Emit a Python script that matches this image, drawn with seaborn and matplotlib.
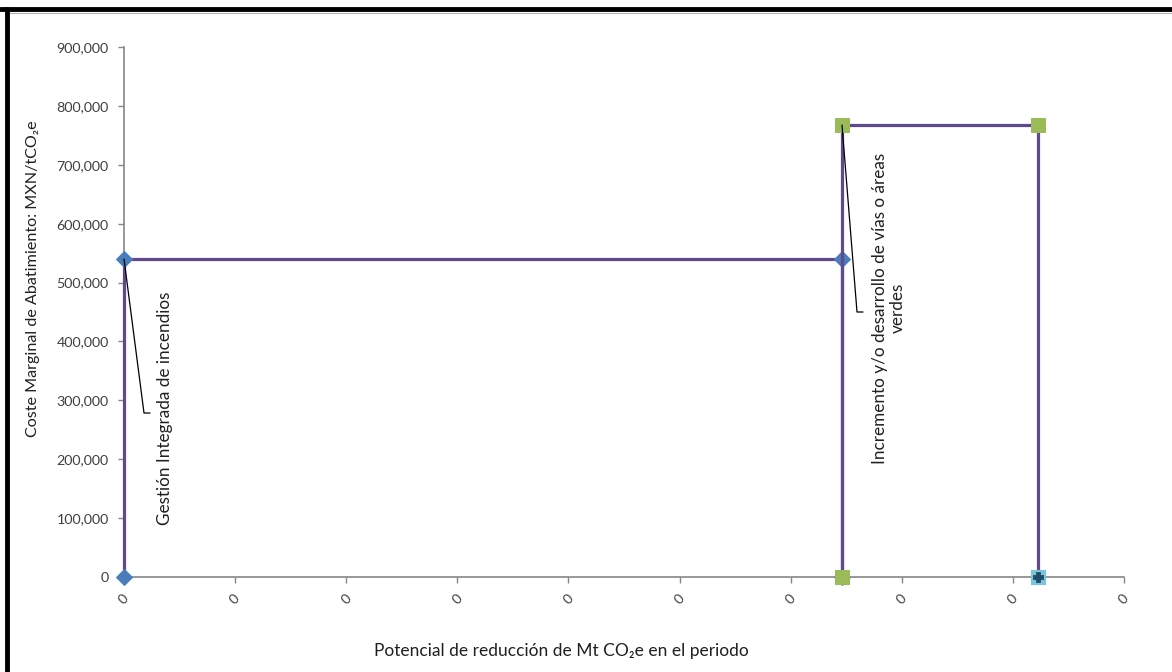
import matplotlib
matplotlib.use("Agg")
import matplotlib.pyplot as plt
from matplotlib.lines import Line2D
from matplotlib.ticker import FuncFormatter, MultipleLocator
import seaborn as sns

# Datos (curva de costes marginales de abatimiento)
x_gestion = [0, 0, 0.006462, 0.006462]
y_gestion = [0, 540000, 540000, 0]
x_incremento = [0.006462, 0.006462, 0.008226, 0.008226]
y_incremento = [0, 767500, 767500, 0]
x_final = [0.008226]
y_final = [0]

etiqueta_gestion = "Gestión Integrada de incendios"
etiqueta_incremento = "Incremento y/o desarrollo de vías o áreas\nverdes"
x_ticks = [i * 0.001 for i in range(10)]

# Estilo
sns.set_style("white")
plt.rcParams['font.family'] = ['Lato', 'DejaVu Sans']

MORADO = '#5f4a8b'
AZUL = '#4a7ebb'
VERDE = '#9bbb59'
GRIS = '#868686'
TEXTO = '#202020'
TAM = 12.3

fig = plt.figure(figsize=(11.72, 6.72), dpi=100)
ax = fig.add_axes([124 / 1172, 1 - 577 / 672, 1000 / 1172, 530 / 672])

sns.lineplot(x=x_gestion, y=y_gestion, sort=False, estimator=None, ax=ax,
             color=MORADO, lw=2.3, marker='D', markersize=8,
             markerfacecolor=AZUL, markeredgecolor=AZUL, clip_on=False, zorder=3)
sns.lineplot(x=x_incremento, y=y_incremento, sort=False, estimator=None, ax=ax,
             color=MORADO, lw=2.3, marker='s', markersize=10,
             markerfacecolor=VERDE, markeredgecolor=VERDE, clip_on=False, zorder=4)
sns.scatterplot(x=x_final, y=y_final, ax=ax, marker='s', s=110, color='#7cc4d8',
                edgecolor='#7cc4d8', clip_on=False, zorder=5)
sns.scatterplot(x=x_final, y=y_final, ax=ax, marker='P', s=60, color='#1f4e6b',
                edgecolor='#1f4e6b', clip_on=False, zorder=6)

# Ejes
ax.set_xlim(0, 0.009)
ax.set_ylim(0, 900000)
ax.set_xticks(x_ticks)
ax.xaxis.set_major_formatter(FuncFormatter(lambda v, p: f"{v:.0f}"))
ax.yaxis.set_major_locator(MultipleLocator(100000))
ax.yaxis.set_major_formatter(FuncFormatter(lambda v, p: f"{v:,.0f}"))
for lab in ax.get_xticklabels():
    lab.set_rotation(45)
ax.tick_params(axis='both', labelsize=10.3, colors='#404040', length=4,
               width=1, direction='out', left=True, bottom=True)
ax.tick_params(axis='both', color=GRIS)
ax.tick_params(axis='x', pad=7)
ax.tick_params(axis='y', pad=7)
for lado in ['top', 'right']:
    ax.spines[lado].set_visible(False)
for lado in ['left', 'bottom']:
    ax.spines[lado].set_color(GRIS)
    ax.spines[lado].set_linewidth(1.2)

ax.set_ylabel("Coste Marginal de Abatimiento: MXN/tCO₂e", fontsize=11.6,
              color=TEXTO)
ax.set_xlabel("Potencial de reducción de Mt CO₂e en el periodo", fontsize=12.5,
              color=TEXTO)
ax.yaxis.set_label_coords(-0.084, 0.562)
ax.xaxis.set_label_coords(0.4375, -0.125)

# Etiquetas con líneas guía (coordenadas en píxeles de figura)
H = 672
fig.add_artist(Line2D([124, 144, 150], [H - 259, H - 413, H - 413],
                      transform=None, color='black', lw=0.9, zorder=7))
fig.text(165, H - 408, etiqueta_gestion, transform=None, rotation=90,
         ha='center', va='center', fontsize=TAM, color=TEXTO)
fig.add_artist(Line2D([842, 857, 863], [H - 125, H - 312, H - 312],
                      transform=None, color='black', lw=0.9, zorder=7))
fig.text(889, H - 308, etiqueta_incremento, transform=None, rotation=90,
         ha='center', va='center', fontsize=TAM, color=TEXTO,
         multialignment='center', linespacing=1.1)

# Marco exterior
fig.add_artist(Line2D([0, 1172], [H - 9, H - 9], transform=None,
                      color='black', lw=3.5))
fig.add_artist(Line2D([7, 7], [0, H - 9], transform=None,
                      color='black', lw=3.5))
fig.add_artist(Line2D([10, 1172], [H - 13, H - 13], transform=None,
                      color='#b0b0b0', lw=0.8))

fig.savefig("out.png", dpi=100)
